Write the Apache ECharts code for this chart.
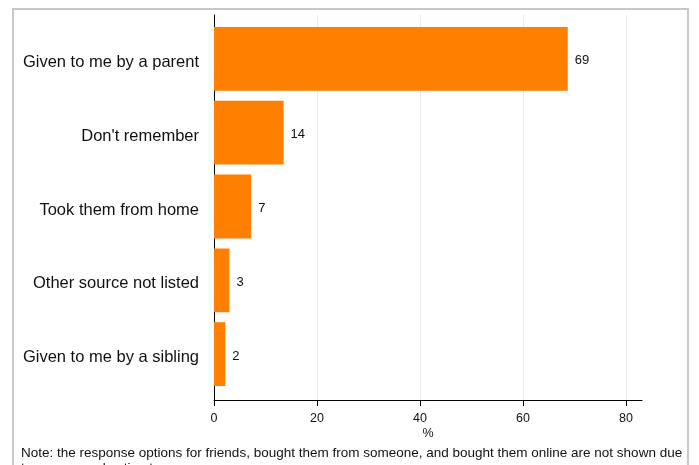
<!DOCTYPE html>
<html>
<head>
<meta charset="utf-8">
<script src="https://cdn.jsdelivr.net/npm/echarts@6/dist/echarts.min.js"></script>
<style>html,body{margin:0;padding:0;background:#fff;}#c{width:699px;height:465px;}</style>
</head>
<body>
<div id="c"></div>
<script>
const categories = ["Given to me by a parent", "Don't remember", "Took them from home", "Other source not listed", "Given to me by a sibling"];
const values = [68.6, 13.5, 7.2, 3.0, 2.2];
const xTicks = [0, 20, 40, 60, 80];
const xName = "%";
const note = "Note: the response options for friends, bought them from someone, and bought them online are not shown due\nto suppressed estimates";

const FONT = "Liberation Sans, Arial, sans-serif";
const chart = echarts.init(document.getElementById('c'), null, {renderer: 'canvas'});
const XMAX = 83;
chart.setOption({
  animation: false,
  backgroundColor: '#fff',
  graphic: [
    {type: 'rect', shape: {x: 13, y: 9, width: 675, height: 520}, style: {fill: 'none', stroke: '#c8c8c8', lineWidth: 2}, z: 0},
    {type: 'text', left: 21, top: 446, style: {text: note, font: '13.5px ' + FONT, fill: '#111', lineHeight: 15}}
  ],
  grid: [
    {left: 214, right: 57, top: 15, bottom: 65},   // axis lines
    {left: 214, right: 73, top: 15, bottom: 65},   // ticks, labels, gridlines (0..80)
    {left: 214, right: 57, top: 22, bottom: 74}    // bars
  ],
  xAxis: [
    {gridIndex: 0, type: 'value', min: 0, max: XMAX, axisLine: {show: true, lineStyle: {color: '#000', width: 1}},
     axisTick: {show: false}, axisLabel: {show: false}, splitLine: {show: false},
     name: xName, nameLocation: 'middle', nameGap: 27, nameTextStyle: {fontFamily: FONT, fontSize: 12.5, color: '#111'}},
    {gridIndex: 1, type: 'value', min: xTicks[0], max: xTicks[xTicks.length - 1], interval: 20,
     axisLine: {show: false}, axisTick: {show: true, length: 6, lineStyle: {color: '#000'}},
     axisLabel: {fontFamily: FONT, fontSize: 12.5, color: '#111', margin: 12},
     splitLine: {show: true, lineStyle: {color: '#e4ecf2', width: 1}}},
    {gridIndex: 2, type: 'value', min: 0, max: XMAX, show: false}
  ],
  yAxis: [
    {gridIndex: 0, type: 'value', min: 0, max: 1, axisLine: {show: true, lineStyle: {color: '#000', width: 1}},
     axisTick: {show: false}, axisLabel: {show: false}, splitLine: {show: false}},
    {gridIndex: 1, type: 'value', min: 0, max: 1, show: false},
    {gridIndex: 2, type: 'category', data: categories, inverse: true,
     axisLine: {show: false}, axisTick: {show: false}, splitLine: {show: false},
     axisLabel: {margin: 15, formatter: v => '{a|' + v + '}',
       rich: {a: {fontFamily: FONT, fontSize: 16.5, color: '#111', padding: [7, 0, 0, 0]}}}}
  ],
  series: [{
    type: 'bar', xAxisIndex: 2, yAxisIndex: 2, data: values,
    barWidth: '86.5%',
    itemStyle: {color: '#ff8000'},
    label: {show: true, position: 'right', distance: 7, offset: [0, 2], fontFamily: FONT, fontSize: 13, color: '#111',
            formatter: p => Number(p.value).toFixed(0)},
    z: 3
  }]
});
</script>
</body>
</html>
